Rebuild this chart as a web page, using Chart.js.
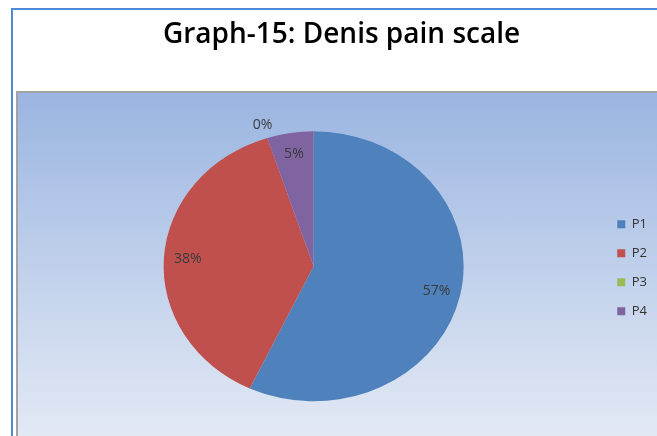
<!DOCTYPE html>
<html lang="en">
<head>
  <meta charset="UTF-8">
  <title>Graph-15: Denis pain scale</title>
  <script src="https://cdn.jsdelivr.net/npm/chart.js"></script>
  <style>
    body {
      margin: 0;
      background: #ffffff;
      font-family: 'Open Sans', sans-serif;
    }
    .frame {
      position: absolute;
      left: 11px;
      top: 8px;
      width: 660px;
      height: 440px;
      border-left: 2px solid #4f8ad8;
      border-top: 2px solid #4f8ad8;
    }
    .plot-bg {
      position: absolute;
      left: 16px;
      top: 91px;
      width: 650px;
      height: 350px;
      border-left: 2px solid #a3a3a3;
      border-top: 2px solid #a3a3a3;
      background: linear-gradient(to bottom, #9ab5e1 0%, #c4d3ec 55%, #e4eaf5 100%);
    }
    canvas {
      position: absolute;
      left: 0;
      top: 0;
    }
  </style>
</head>
<body>
  <div class="frame"></div>
  <div class="plot-bg"></div>
  <canvas id="chart1" width="657" height="436"></canvas>

  <script>
    // data
    const categories = ['P1', 'P2', 'P3', 'P4'];
    const percentages = [57, 38, 0, 5];
    const sliceColors = ['#4f81bd', '#c0504d', '#9bbb59', '#8064a2'];

    // Excel-style flattened pie (ellipse) + percent labels
    const squash = 0.9;
    const ellipsePie = {
      id: 'ellipsePie',
      beforeDatasetsDraw(chart) {
        const arc = chart.getDatasetMeta(0).data[0];
        const ctx = chart.ctx;
        ctx.save();
        ctx.translate(arc.x, arc.y);
        ctx.scale(1, squash);
        ctx.translate(-arc.x, -arc.y);
      },
      afterDatasetsDraw(chart) {
        const ctx = chart.ctx;
        ctx.restore();
        ctx.save();
        ctx.font = '14px "Open Sans", sans-serif';
        ctx.fillStyle = '#3a3a3a';
        ctx.textAlign = 'center';
        ctx.textBaseline = 'middle';
        chart.getDatasetMeta(0).data.forEach((arc, i) => {
          const mid = (arc.startAngle + arc.endAngle) / 2;
          const r = arc.outerRadius * (percentages[i] === 0 ? 1.1 : 0.84);
          const x = arc.x + Math.cos(mid) * r;
          const y = arc.y + Math.sin(mid) * r * squash;
          ctx.fillText(percentages[i] + '%', x, y);
        });
        ctx.restore();
      }
    };

    new Chart(document.getElementById('chart1'), {
      type: 'pie',
      data: {
        labels: categories,
        datasets: [{
          data: percentages,
          backgroundColor: sliceColors,
          borderWidth: 0,
          radius: 150
        }]
      },
      options: {
        responsive: false,
        animation: false,
        layout: { padding: { left: 26, right: 0, top: 0, bottom: 2 } },
        plugins: {
          title: {
            display: true,
            text: 'Graph-15: Denis pain scale',
            color: '#000000',
            font: { family: 'Open Sans', size: 28, weight: '600' },
            padding: { top: 18, bottom: 47 }
          },
          legend: {
            position: 'right',
            title: {
              display: true,
              text: ' ',
              font: { size: 13 },
              padding: { top: 0, bottom: 86 }
            },
            labels: {
              boxWidth: 8,
              boxHeight: 8,
              padding: 16,
              color: '#333333',
              font: { family: 'Open Sans', size: 13 }
            }
          },
          tooltip: { enabled: false }
        }
      },
      plugins: [ellipsePie]
    });
  </script>
</body>
</html>
